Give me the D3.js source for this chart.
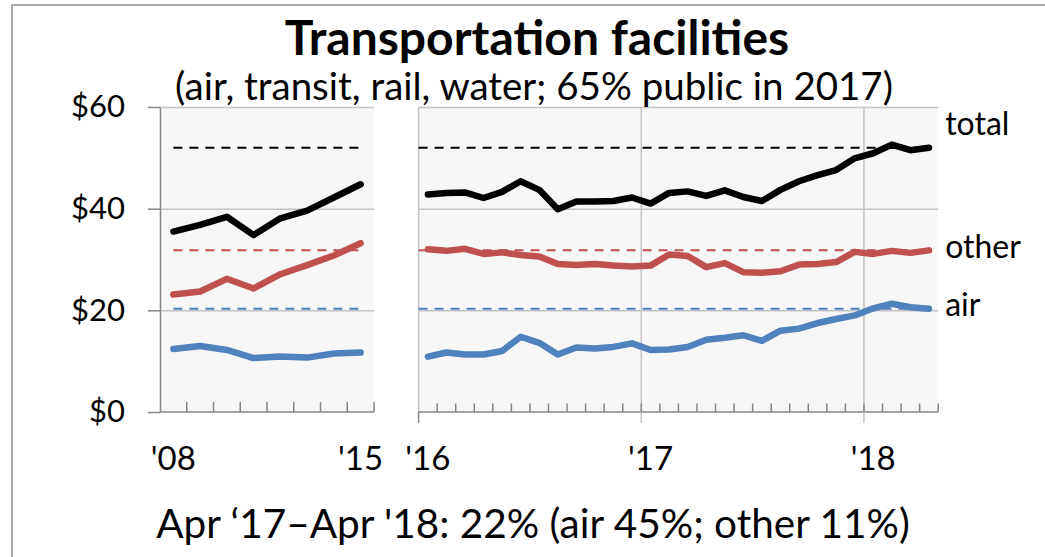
<!DOCTYPE html>
<html>
<head>
<meta charset="utf-8">
<script src="https://cdn.jsdelivr.net/npm/d3@7/dist/d3.min.js"></script>
<style>
  body { margin: 0; background: #fff; }
  text { font-family: Lato, 'Open Sans', sans-serif; fill: #000; }
</style>
</head>
<body>
<svg width="1045" height="557"></svg>
<script>
// annual averages, 2008-2015 ($bn)
const years = ["'08", "'09", "'10", "'11", "'12", "'13", "'14", "'15"]
const totalYearly = [35.5, 36.8, 38.4, 34.8, 38.1, 39.6, 42.2, 44.8]
const otherYearly = [23.1, 23.7, 26.2, 24.3, 27.1, 28.9, 30.8, 33.2]
const airYearly = [12.4, 13.0, 12.2, 10.6, 10.9, 10.7, 11.5, 11.7]

// monthly, Jan 2016 - Apr 2018
const months = [
  "Jan '16", "Feb '16", "Mar '16", "Apr '16", "May '16", "Jun '16",
  "Jul '16", "Aug '16", "Sep '16", "Oct '16", "Nov '16", "Dec '16",
  "Jan '17", "Feb '17", "Mar '17", "Apr '17", "May '17", "Jun '17",
  "Jul '17", "Aug '17", "Sep '17", "Oct '17", "Nov '17", "Dec '17",
  "Jan '18", "Feb '18", "Mar '18", "Apr '18"
]
const totalMonthly = [42.8, 43.1, 43.2, 42.1, 43.3, 45.4, 43.7, 39.9, 41.4, 41.4, 41.5, 42.2,
  41.0, 43.1, 43.4, 42.5, 43.6, 42.3, 41.5, 43.7, 45.4, 46.6, 47.6, 49.9,
  50.9, 52.6, 51.5, 52.0]
const otherMonthly = [32.0, 31.7, 32.1, 31.1, 31.4, 30.9, 30.6, 29.1, 28.9, 29.1, 28.8, 28.6,
  28.8, 31.0, 30.7, 28.5, 29.3, 27.5, 27.4, 27.7, 29.0, 29.1, 29.5, 31.5,
  31.1, 31.7, 31.3, 31.8]
const airMonthly = [10.9, 11.7, 11.3, 11.3, 12.0, 14.8, 13.6, 11.3, 12.7, 12.5, 12.8, 13.5,
  12.2, 12.3, 12.8, 14.2, 14.6, 15.1, 14.0, 16.0, 16.4, 17.5, 18.3, 19.0,
  20.4, 21.3, 20.6, 20.3]

const seriesNames = ['total', 'other', 'air']
const yTicks = [0, 20, 40, 60]
const leftTickLabels = ["'08", "'15"]
const rightTicks = ["Jan '16", "Jan '17", "Jan '18"]
const rightTickLabels = ["'16", "'17", "'18"]

const titleText = 'Transportation facilities'
const subtitleText = '(air, transit, rail, water; 65% public in 2017)'
const footerText = "Apr \u201817\u2013Apr '18: 22% (air 45%; other 11%)"

// styles
const colors = {total: '#000000', other: '#C0504D', air: '#4F81BD'}
const labelDy = {total: -13, other: 8, air: 7}
const axisColor = '#868686'
const gridColor = '#c3c3c3'
const bgColor = '#f7f7f7'

let yearly = {total: totalYearly, other: otherYearly, air: airYearly}
let monthly = {total: totalMonthly, other: otherMonthly, air: airMonthly}

let svg = d3.select('svg')
let plotTop = 107
let plotBottom = 412

let y = d3.scaleLinear().domain([0, 60]).range([plotBottom, plotTop])
let xL = d3.scaleBand().domain(years).range([160, 374])
let xR = d3.scaleBand().domain(months).range([418.6, 938.2])

// outer frame (runs off the right and bottom edges)
svg.append('rect')
  .attr('x', 12).attr('y', 5)
  .attr('width', 1100).attr('height', 600)
  .attr('fill', 'none')
  .attr('stroke', '#8e8e8e')
  .attr('stroke-width', 1.5)

function panel (x) {
  let [x0, x1] = x.range()
  let g = svg.append('g')

  g.append('rect')
    .attr('x', x0).attr('y', plotTop)
    .attr('width', x1 - x0).attr('height', plotBottom - plotTop)
    .attr('fill', bgColor)

  // horizontal gridlines
  g.append('g')
    .attr('transform', 'translate(' + x0 + ',0)')
    .call(d3.axisLeft(y)
      .tickValues(yTicks.filter(d => d > 0))
      .tickSize(-(x1 - x0))
      .tickFormat(''))
    .call(s => s.select('.domain').remove())
    .selectAll('line')
      .attr('stroke', gridColor)
      .attr('stroke-width', 1.5)
  return g
}

// ---- left panel (annual)
let gl = panel(xL)

gl.append('g')
  .attr('transform', 'translate(160,0)')
  .call(d3.axisLeft(y)
    .tickValues(yTicks)
    .tickSize(12)
    .tickSizeOuter(0)
    .tickPadding(23)
    .tickFormat(d => '$' + d))
  .call(s => s.selectAll('line, path').attr('stroke', axisColor).attr('stroke-width', 1.5))
  .call(s => s.selectAll('text')
    .attr('font-family', 'Lato')
    .attr('font-size', 31)
    .attr('fill', '#000'))

gl.append('line')
  .attr('x1', 160).attr('x2', xL.range()[1])
  .attr('y1', plotBottom).attr('y2', plotBottom)
  .attr('stroke', axisColor).attr('stroke-width', 1.5)

// small ticks between the years
gl.selectAll('.ytick')
  .data(years.slice(1).map(d => xL(d)).concat([xL.range()[1]]))
  .join('line')
  .attr('x1', d => d).attr('x2', d => d)
  .attr('y1', plotBottom).attr('y2', plotBottom - 10)
  .attr('stroke', axisColor).attr('stroke-width', 1.5)

gl.selectAll('.xlabel')
  .data(leftTickLabels)
  .join('text')
  .attr('x', d => xL(d) + xL.bandwidth() / 2)
  .attr('y', 470)
  .attr('text-anchor', 'middle')
  .attr('font-size', 33)
  .text(d => d)

// ---- right panel (monthly)
let gr = panel(xR)
let [r0, r1] = xR.range()

// left edge of the monthly panel
gr.append('line')
  .attr('x1', r0).attr('x2', r0)
  .attr('y1', plotTop).attr('y2', plotBottom)
  .attr('stroke', gridColor).attr('stroke-width', 1.5)

// january gridlines
gr.selectAll('.vgrid')
  .data(rightTicks.slice(1))
  .join('line')
  .attr('x1', d => xR(d)).attr('x2', d => xR(d))
  .attr('y1', plotTop).attr('y2', plotBottom)
  .attr('stroke', gridColor).attr('stroke-width', 1.5)

gr.append('line')
  .attr('x1', r0).attr('x2', r1)
  .attr('y1', plotBottom).attr('y2', plotBottom)
  .attr('stroke', axisColor).attr('stroke-width', 1.5)

// month ticks
gr.selectAll('.mtick')
  .data(months.slice(1).map(d => xR(d)).concat([r1]))
  .join('line')
  .attr('x1', d => d).attr('x2', d => d)
  .attr('y1', plotBottom).attr('y2', plotBottom - 8.5)
  .attr('stroke', axisColor).attr('stroke-width', 1.5)

// year ticks below the axis
gr.selectAll('.jtick')
  .data(rightTicks)
  .join('line')
  .attr('x1', d => xR(d)).attr('x2', d => xR(d))
  .attr('y1', plotBottom).attr('y2', plotBottom + 11)
  .attr('stroke', d => d === rightTicks[0] ? axisColor : gridColor)
  .attr('stroke-width', 1.5)

gr.selectAll('.xlabel')
  .data(rightTicks)
  .join('text')
  .attr('x', d => xR(d) + xR.bandwidth() / 2)
  .attr('y', 470)
  .attr('text-anchor', 'middle')
  .attr('font-size', 33)
  .text((d, i) => rightTickLabels[i])

// ---- dashed lines at the latest (Apr '18) level
seriesNames.forEach(name => {
  let level = monthly[name][monthly[name].length - 1]
  svg.append('line')
    .attr('x1', xL(years[0]) + xL.bandwidth() / 2)
    .attr('x2', xL(years[years.length - 1]) + xL.bandwidth() / 2)
    .attr('y1', y(level)).attr('y2', y(level))
    .attr('stroke', colors[name])
    .attr('stroke-width', 2)
    .attr('stroke-dasharray', '9,7')
  svg.append('line')
    .attr('x1', r0)
    .attr('x2', xR(months[months.length - 1]) + xR.bandwidth() / 2)
    .attr('y1', y(level)).attr('y2', y(level))
    .attr('stroke', colors[name])
    .attr('stroke-width', 2)
    .attr('stroke-dasharray', '9,7')
})

// ---- series lines
let lineL = d3.line()
  .x((d, i) => xL(years[i]) + xL.bandwidth() / 2)
  .y(d => y(d))

let lineR = d3.line()
  .x((d, i) => xR(months[i]) + xR.bandwidth() / 2)
  .y(d => y(d))

seriesNames.forEach(name => {
  svg.append('path')
    .datum(yearly[name])
    .attr('fill', 'none')
    .attr('stroke', colors[name])
    .attr('stroke-width', 6.5)
    .attr('stroke-linejoin', 'round')
    .attr('stroke-linecap', 'round')
    .attr('d', lineL)
  svg.append('path')
    .datum(monthly[name])
    .attr('fill', 'none')
    .attr('stroke', colors[name])
    .attr('stroke-width', 6.5)
    .attr('stroke-linejoin', 'round')
    .attr('stroke-linecap', 'round')
    .attr('d', lineR)

  // series label at the right end
  svg.append('text')
    .attr('x', r1 + 7)
    .attr('y', y(monthly[name][monthly[name].length - 1]) + labelDy[name])
    .attr('font-size', 32)
    .text(name)
})

// ---- titles
svg.append('text')
  .attr('x', 537).attr('y', 55)
  .attr('text-anchor', 'middle')
  .attr('font-size', 48)
  .attr('font-weight', 'bold')
  .text(titleText)

svg.append('text')
  .attr('x', 534).attr('y', 100)
  .attr('text-anchor', 'middle')
  .attr('font-size', 38.5)
  .text(subtitleText)

svg.append('text')
  .attr('x', 533).attr('y', 538)
  .attr('text-anchor', 'middle')
  .attr('font-size', 40.5)
  .text(footerText)
</script>
</body>
</html>
